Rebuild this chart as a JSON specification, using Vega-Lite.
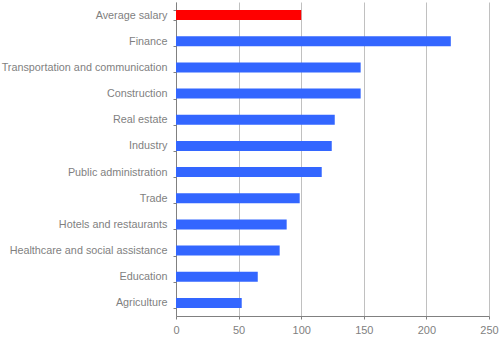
{
  "$schema": "https://vega.github.io/schema/vega-lite/v6.json",
  "autosize": "none",
  "width": 313,
  "height": 314,
  "padding": {"left": 176, "top": 2, "right": 11, "bottom": 23},
  "background": "white",
  "config": {"view": {"stroke": null}},
  "data": {"values": [
    {"sector": "Average salary\u00a0", "value": 100, "group": "avg"},
    {"sector": "Finance\u00a0", "value": 219.5, "group": "sector"},
    {"sector": "Transportation and communication", "value": 147.5, "group": "sector"},
    {"sector": "Construction\u00a0", "value": 147.5, "group": "sector"},
    {"sector": "Real estate", "value": 126.8, "group": "sector"},
    {"sector": "Industry\u00a0", "value": 124.4, "group": "sector"},
    {"sector": "Public administration", "value": 116.4, "group": "sector"},
    {"sector": "Trade", "value": 98.8, "group": "sector"},
    {"sector": "Hotels and restaurants", "value": 88.4, "group": "sector"},
    {"sector": "Healthcare and social assistance", "value": 82.8, "group": "sector"},
    {"sector": "Education", "value": 65.3, "group": "sector"},
    {"sector": "Agriculture", "value": 52.5, "group": "sector"}
  ]},
  "mark": {"type": "bar"},
  "encoding": {
    "y": {
      "field": "sector", "type": "nominal", "sort": null,
      "scale": {"paddingInner": 0.62, "paddingOuter": 0.31},
      "axis": {
        "title": null, "tickBand": "extent", "tickSize": 3, "tickColor": "#808080",
        "domainColor": "#808080", "labelPadding": 6, "labelColor": "#7f7f7f",
        "labelFont": "Liberation Sans", "labelFontSize": 10.8, "labelLimit": 200
      }
    },
    "x": {
      "field": "value", "type": "quantitative",
      "scale": {"domain": [0, 250], "nice": false},
      "axis": {
        "title": null, "values": [0, 50, 100, 150, 200, 250], "tickSize": 3,
        "tickColor": "#808080", "domainColor": "#808080", "gridColor": "#c0c0c0",
        "labelColor": "#7f7f7f", "labelFont": "Liberation Sans", "labelFontSize": 11,
        "labelPadding": 5, "labelFlush": false
      }
    },
    "color": {
      "field": "group", "type": "nominal",
      "scale": {"domain": ["avg", "sector"], "range": ["#ff0000", "#3366ff"]},
      "legend": null
    }
  }
}
